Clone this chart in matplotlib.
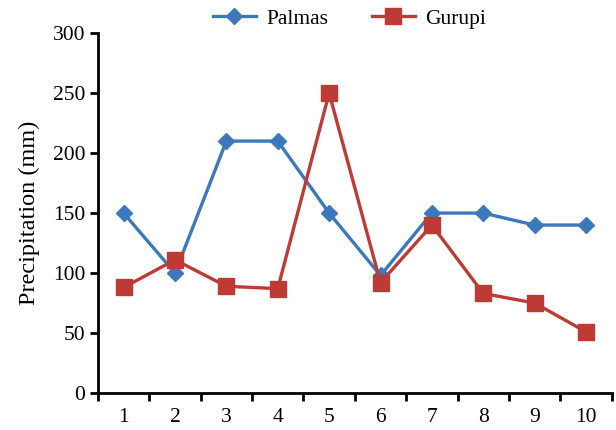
import matplotlib.pyplot as plt
import numpy as np

plt.rcParams['font.family'] = ['Liberation Serif', 'DejaVu Serif']

days = [1, 2, 3, 4, 5, 6, 7, 8, 9, 10]
palmas = [150, 100, 210, 210, 150, 98, 150, 150, 140, 140]
gurupi = [88, 111, 89, 87, 250, 92, 140, 83, 75, 51]

blue = '#3D78BD'
red = '#BE3A35'

fig = plt.figure(figsize=(6.16, 4.30), dpi=100)
ax = fig.add_axes([0.159, 0.086, 0.834, 0.837])

ax.plot(days, palmas, color=blue, lw=2.4, marker='D', ms=8.5, label='Palmas')
ax.plot(days, gurupi, color=red, lw=2.4, marker='s', ms=11, label='Gurupi')

ax.set_xlim(0.5, 10.5)
ax.set_ylim(0, 300)
ax.set_yticks(np.arange(0, 301, 50))
ax.set_xticks(days)
ax.set_xticks(np.arange(0.5, 11, 1), minor=True)
ax.tick_params(axis='x', which='major', length=0, labelsize=15.5, pad=11)
ax.tick_params(axis='x', which='minor', length=6, width=2, direction='out')
ax.tick_params(axis='y', length=6, width=2, direction='out', labelsize=15.5, pad=3)
for s in ['top', 'right']:
    ax.spines[s].set_visible(False)
for s in ['left', 'bottom']:
    ax.spines[s].set_linewidth(2)
ax.set_ylabel('Precipitation (mm)', fontsize=17.5, labelpad=9)

ax.legend(loc='center', bbox_to_anchor=(0.49, 1.04), ncol=2, frameon=False,
          fontsize=15.5, handlelength=2.0, columnspacing=2.0, handletextpad=0.5)

fig.savefig('out.png', dpi=100)
